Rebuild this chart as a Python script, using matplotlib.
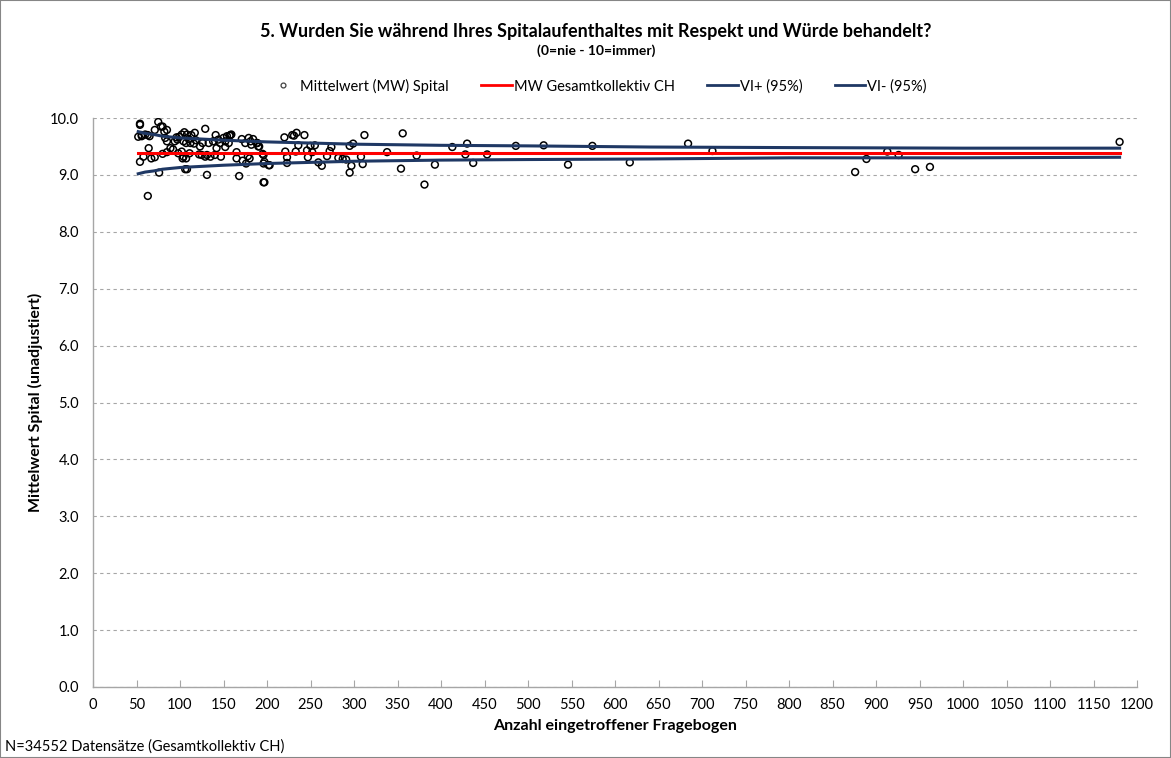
import numpy as np
import matplotlib.pyplot as plt
from matplotlib.lines import Line2D
from matplotlib.patches import Rectangle

plt.rcParams['font.family'] = ['Lato', 'DejaVu Sans']

# ---- hospital means ----
n_spital = [
    54, 54, 52, 56, 60, 65, 64, 54, 58, 67, 71, 63, 71, 75, 80, 82, 85, 83, 85, 76,
    80, 85, 89, 94, 97, 99, 102, 105, 108, 110, 104, 107, 112, 98, 102, 104, 107, 103, 106, 108,
    111, 117, 118, 123, 129, 125, 129, 131, 133, 135, 138, 142, 140, 144, 146, 147, 150, 152, 154, 156,
    157, 159, 165, 165, 168, 171, 175, 176, 179, 181, 180, 182, 188, 190, 196, 196, 197, 203,
    56, 63, 78, 96, 113, 92, 116, 126, 131, 122, 141, 152, 158, 184, 172, 178,
    189, 191, 195, 197, 202, 196, 220, 229, 231, 234, 243, 236, 221, 223, 223, 233,
    246, 247, 250, 255, 252, 259, 263, 269, 272, 274, 282, 287, 291, 295, 299, 295,
    297, 308, 310, 312, 338, 354, 356, 372, 381, 393, 413, 428, 430, 437, 453, 486,
    518, 546, 574, 617, 684, 712, 876, 889, 913, 926, 945, 962, 1180,
]
mw_spital = [
    9.90, 9.88, 9.67, 9.68, 9.71, 9.68, 9.47, 9.23, 9.32, 9.29, 9.31, 8.63, 9.79, 9.93, 9.85, 9.76, 9.79, 9.65, 9.59, 9.04,
    9.37, 9.40, 9.47, 9.59, 9.62, 9.67, 9.71, 9.75, 9.71, 9.63, 9.59, 9.56, 9.56, 9.38, 9.41, 9.32, 9.29, 9.29, 9.10, 9.10,
    9.38, 9.74, 9.61, 9.50, 9.81, 9.35, 9.32, 9.00, 9.56, 9.32, 9.59, 9.47, 9.35, 9.62, 9.56, 9.32, 9.65, 9.59, 9.68, 9.56,
    9.69, 9.71, 9.40, 9.29, 8.98, 9.63, 9.56, 9.20, 9.65, 9.59, 9.29, 9.53, 9.56, 9.50, 9.35, 9.20, 8.87, 9.17,
    9.70, 9.70, 9.85, 9.66, 9.70, 9.45, 9.55, 9.56, 9.35, 9.36, 9.70, 9.49, 9.70, 9.63, 9.25, 9.33,
    9.56, 9.50, 9.37, 9.23, 9.17, 8.87, 9.66, 9.70, 9.69, 9.74, 9.70, 9.52, 9.41, 9.31, 9.21, 9.41,
    9.43, 9.31, 9.51, 9.52, 9.40, 9.22, 9.16, 9.33, 9.42, 9.49, 9.30, 9.28, 9.27, 9.51, 9.55, 9.04,
    9.16, 9.32, 9.19, 9.70, 9.40, 9.11, 9.73, 9.34, 8.83, 9.18, 9.49, 9.36, 9.55, 9.21, 9.36, 9.51,
    9.52, 9.18, 9.51, 9.22, 9.55, 9.42, 9.05, 9.28, 9.41, 9.35, 9.10, 9.14, 9.58,
]

# ---- overall mean and 95% limits ----
n_line = [52, 60, 70, 80, 100, 125, 150, 200, 250, 300, 400, 500, 640, 800, 1000, 1180]
vi_plus = [9.76, 9.73, 9.71, 9.68, 9.65, 9.63, 9.61, 9.58, 9.56, 9.54, 9.52, 9.51, 9.49, 9.48, 9.47, 9.47]
vi_minus = [9.02, 9.05, 9.07, 9.10, 9.13, 9.15, 9.17, 9.20, 9.22, 9.24, 9.26, 9.27, 9.28, 9.30, 9.30, 9.31]
mw_ch = 9.39

navy = '#1F3864'
red = '#FF0000'
grey = '#A6A6A6'

fig = plt.figure(figsize=(11.71, 7.58), dpi=100)
ax = fig.add_axes([93 / 1171, 1 - 687 / 758, (1137 - 93) / 1171, (687 - 118) / 758])

ax.scatter(n_spital, mw_spital, s=24, facecolors='none', edgecolors='black', linewidths=1.1, zorder=3)
ax.plot([n_line[0], n_line[-1]], [mw_ch, mw_ch], color=red, lw=2.2, zorder=4)
ax.plot(n_line, vi_plus, color=navy, lw=2.2, zorder=4)
ax.plot(n_line, vi_minus, color=navy, lw=2.2, zorder=4)

ax.set_xlim(0, 1200)
ax.set_ylim(0, 10)
ax.set_xticks(np.arange(0, 1201, 50))
ax.set_yticks(np.arange(0, 10.01, 1))
ax.set_yticklabels([f"{v:.1f}" for v in np.arange(0, 10.01, 1)])
ax.grid(axis='y', color=grey, ls=(0, (3, 3)), lw=0.8)
ax.set_axisbelow(True)
for s in ['top', 'right']:
    ax.spines[s].set_visible(False)
for s in ['left', 'bottom']:
    ax.spines[s].set_color(grey)
    ax.spines[s].set_linewidth(1.0)
ax.tick_params(axis='x', direction='in', length=5, color=grey, labelsize=10.5, pad=8)
ax.tick_params(axis='y', length=0, labelsize=10.5, pad=10)

ax.set_xlabel("Anzahl eingetroffener Fragebogen", fontsize=11.5, fontweight='bold', labelpad=5)
ax.set_ylabel("Mittelwert Spital (unadjustiert)", fontsize=11.5, fontweight='bold', labelpad=5)

fig.text(0.509, 1 - 32 / 758, "5. Wurden Sie während Ihres Spitalaufenthaltes mit Respekt und Würde behandelt?",
         ha='center', va='center', fontsize=13, fontweight='bold')
fig.text(0.509, 1 - 51 / 758, "(0=nie - 10=immer)", ha='center', va='center', fontsize=10, fontweight='bold')
fig.text(5 / 1171, 1 - 747 / 758, "N=34552 Datensätze (Gesamtkollektiv CH)", ha='left', va='center', fontsize=10.5)

handles = [
    Line2D([], [], ls='none', marker='o', ms=3.5, mfc='none', mec='#404040', mew=0.9),
    Line2D([], [], color=red, lw=2),
    Line2D([], [], color=navy, lw=2),
    Line2D([], [], color=navy, lw=2),
]
labels = ["Mittelwert (MW) Spital", "MW Gesamtkollektiv CH", "VI+ (95%)", "VI- (95%)"]
fig.legend(handles, labels, loc='center', bbox_to_anchor=(0.51, 1 - 86 / 758), ncol=4, frameon=False,
           fontsize=10.5, handlelength=2.1, handletextpad=0.15, columnspacing=2.2)

fig.patches.append(Rectangle((0, 0), 1, 1, transform=fig.transFigure, fill=False,
                             edgecolor='#868686', lw=1.5))

fig.savefig("out.png", dpi=100)
